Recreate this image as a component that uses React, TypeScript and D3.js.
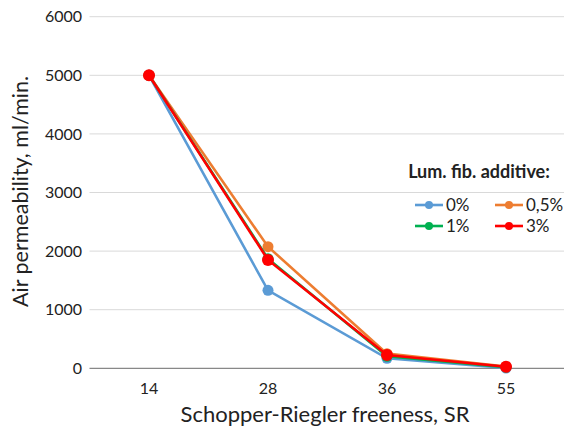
import React from "react";
import * as d3 from "d3";

const categories = ["14", "28", "36", "55"];
const seriesNames = ["0%", "0,5%", "1%", "3%"];
const seriesColors = ["#5B9BD5", "#ED7D31", "#00B050", "#FF0000"];
const values0 = [5000, 1330, 170, 5];
const values05 = [5000, 2075, 250, 30];
const values1 = [5000, 1870, 205, 20];
const values3 = [5000, 1850, 225, 27];
const yTicks = [0, 1000, 2000, 3000, 4000, 5000, 6000];

const W = 564;
const H = 432;
const left = 89.5;
const right = 565.5;
const top = 16.7;
const bottom = 368.3;
const FONT = "Lato, 'Open Sans', sans-serif";

export default function App() {
  const x = d3.scaleBand<string>().domain(categories).range([left, right]);
  const y = d3.scaleLinear().domain([0, 6000]).range([bottom, top]);
  const cx = (c: string) => (x(c) as number) + x.bandwidth() / 2;
  const all = [values0, values05, values1, values3];
  const line = d3
    .line<number>()
    .x((_, i) => cx(categories[i]))
    .y((d) => y(d));

  const legendItems = [
    { i: 0, lx: 415, ly: 205 },
    { i: 1, lx: 495, ly: 205 },
    { i: 2, lx: 415, ly: 226 },
    { i: 3, lx: 495, ly: 226 },
  ];

  return (
    <svg
      width={W}
      height={H}
      style={{ position: "absolute", left: 0, top: 0, background: "#fff" }}
      fontFamily={FONT}
    >
      {yTicks.map((t) => (
        <g key={t}>
          {t !== 0 && (
            <line x1={left} x2={W} y1={y(t)} y2={y(t)} stroke="#d9d9d9" strokeWidth={1} />
          )}
          <text x={82} y={y(t)} dy="0.35em" textAnchor="end" fontSize={16} fill="#222">
            {t}
          </text>
        </g>
      ))}
      <line x1={left} x2={W} y1={y(0)} y2={y(0)} stroke="#888" strokeWidth={1.2} />
      {categories.map((c) => (
        <text key={c} x={cx(c)} y={388} dy="0.35em" textAnchor="middle" fontSize={16} fill="#222">
          {c}
        </text>
      ))}
      <text x={325} y={414} dy="0.35em" textAnchor="middle" fontSize={22} fill="#222">
        Schopper-Riegler freeness, SR
      </text>
      <text
        transform={`translate(20, ${(70 + 313) / 2}) rotate(-90)`}
        dy="0.35em"
        textAnchor="middle"
        fontSize={21.5}
        fill="#222"
      >
        Air permeability, ml/min.
      </text>
      {all.map((vals, s) => (
        <g key={s}>
          <path d={line(vals) as string} fill="none" stroke={seriesColors[s]} strokeWidth={2.6} />
          {vals.map((v, i) => (
            <circle key={i} cx={cx(categories[i])} cy={y(v)} r={s === 3 ? 6 : 5.5} fill={seriesColors[s]} />
          ))}
        </g>
      ))}
      <text x={479} y={172} dy="0.35em" textAnchor="middle" fontSize={18} fontWeight="bold" fill="#222">
        Lum. fib. additive:
      </text>
      {legendItems.map(({ i, lx, ly }) => (
        <g key={i}>
          <line x1={lx} x2={lx + 28} y1={ly} y2={ly} stroke={seriesColors[i]} strokeWidth={2.6} />
          <circle cx={lx + 14} cy={ly} r={4} fill={seriesColors[i]} />
          <text x={lx + 31} y={ly} dy="0.35em" fontSize={17} fill="#222">
            {seriesNames[i]}
          </text>
        </g>
      ))}
    </svg>
  );
}
